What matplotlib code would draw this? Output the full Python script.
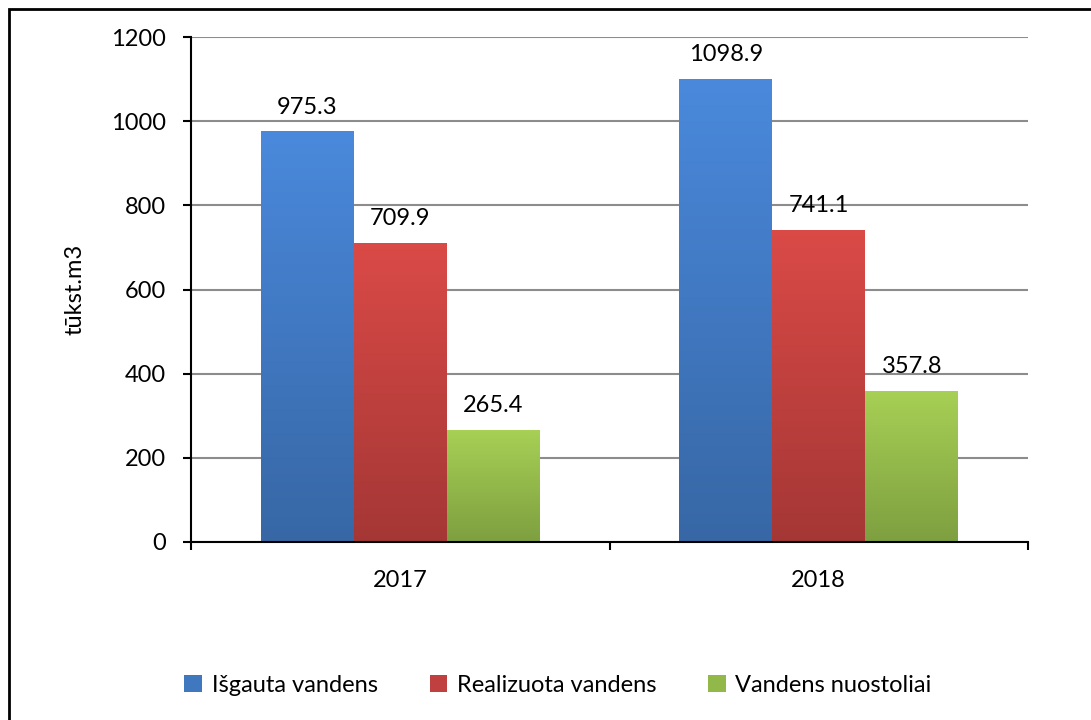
import matplotlib
matplotlib.use('Agg')
import matplotlib.pyplot as plt
from matplotlib.patches import Rectangle, Patch
import matplotlib.colors as mcolors
import numpy as np

years = ['2017', '2018']
series_names = ['Išgauta vandens', 'Realizuota vandens', 'Vandens nuostoliai']
isgauta = [975.3, 1098.9]
realizuota = [709.9, 741.1]
nuostoliai = [265.4, 357.8]

# spalvos: virsus (sviesesnis) ir apacia (tamsesnis)
top_colors = ['#4A89DC', '#DA4A47', '#A7D055']
bottom_colors = ['#3767A5', '#A43735', '#7E9F40']

plt.rcParams['font.family'] = ['Lato', 'DejaVu Sans']
plt.rcParams['font.size'] = 17

W, H = 1091, 720
fig = plt.figure(figsize=(W / 100, H / 100), dpi=100)
ax = fig.add_axes([191 / W, 1 - 542 / H, (1028 - 191) / W, (542 - 37) / H])

x = np.arange(len(years))
bar_w = 0.2222
values = [isgauta, realizuota, nuostoliai]

for i, vals in enumerate(values):
    cmap = mcolors.LinearSegmentedColormap.from_list('g%d' % i, [bottom_colors[i], top_colors[i]])
    grad = np.linspace(0, 1, 256).reshape(-1, 1)
    for j, v in enumerate(vals):
        left = x[j] + (i - 1) * bar_w - bar_w / 2
        ax.imshow(grad, cmap=cmap, origin='lower', aspect='auto',
                  extent=[left, left + bar_w, 0, v], zorder=2, interpolation='bicubic')
        ax.annotate('%.1f' % v, (left + bar_w / 2, v), xytext=(0, 13),
                    textcoords='offset points', ha='center', va='baseline',
                    fontsize=17, zorder=4)

ax.set_xlim(-0.5, 1.5)
ax.set_ylim(0, 1200)
ax.set_yticks(range(0, 1201, 200))
ax.set_xticks([-0.5, 0.5, 1.5], minor=False)
ax.set_xticklabels([])
ax.set_xticks(x, minor=True)
ax.set_xticklabels(years, minor=True)
ax.tick_params(axis='x', which='minor', length=0, pad=20)
ax.tick_params(axis='x', which='major', length=6, width=1.5, direction='out')
ax.tick_params(axis='y', length=6, width=1.5, direction='out', pad=12)

ax.yaxis.grid(True, color='#8C8C8C', linewidth=1.5, zorder=1)
ax.set_axisbelow(True)
for s in ['top', 'right']:
    ax.spines[s].set_visible(False)
for s in ['left', 'bottom']:
    ax.spines[s].set_linewidth(1.5)
    ax.spines[s].set_zorder(5)

ax.set_ylabel('tūkst.m3', fontsize=17, labelpad=18)

handles = [Patch(facecolor=mcolors.to_hex(np.mean([mcolors.to_rgb(top_colors[i]), mcolors.to_rgb(bottom_colors[i])], axis=0)),
                 edgecolor='none', label=series_names[i]) for i in range(3)]
fig.legend(handles=handles, loc='center', bbox_to_anchor=(558 / W, 1 - 685 / H), ncol=3,
           frameon=False, fontsize=17, handlelength=0.75, handleheight=0.75,
           handletextpad=0.4, columnspacing=2.2)

# ramka aplink paveiksla
fig.patches.append(Rectangle((8.5 / W, -0.1), 1.2, 1.1 - 8.5 / H, transform=fig.transFigure,
                             fill=False, edgecolor='black', linewidth=2))

fig.savefig('out.png', dpi=100)
